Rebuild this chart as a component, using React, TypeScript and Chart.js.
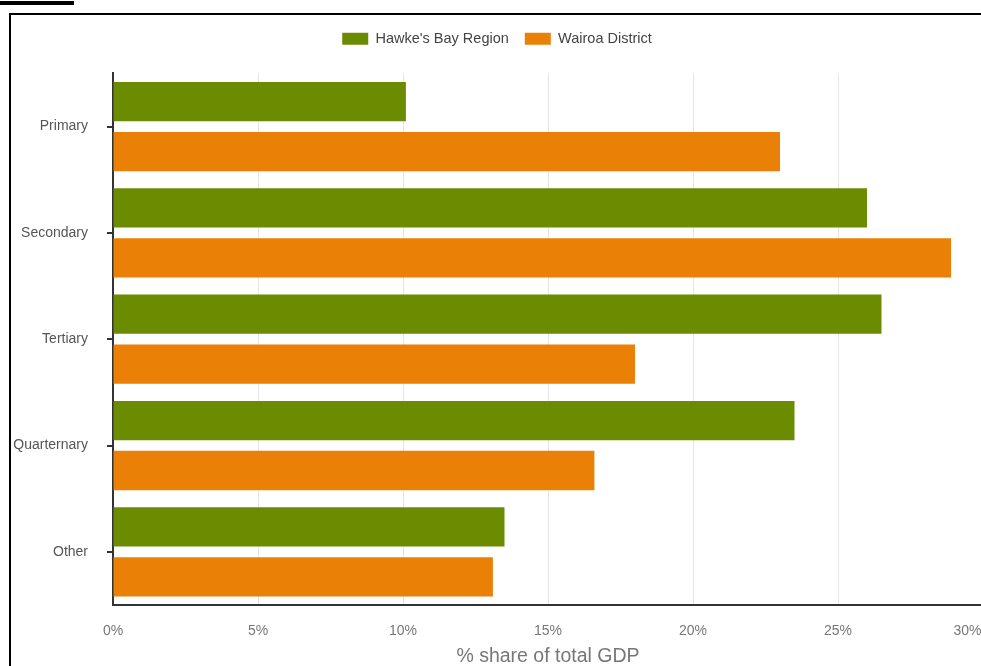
import React, { useEffect, useRef } from "react";
import { Chart, registerables } from "chart.js";

Chart.register(...registerables);

const categories = ["Primary", "Secondary", "Tertiary", "Quarternary", "Other"];
const seriesNames = ["Hawke's Bay Region", "Wairoa District"];
const hawkesBay = [10.1, 26.0, 26.5, 23.5, 13.5];
const wairoa = [23.0, 28.9, 18.0, 16.6, 13.1];
const xMin = 0;
const xMax = 30;
const xStep = 5;
const xTitle = "% share of total GDP";

const FONT = '"Liberation Sans", Arial, Helvetica, sans-serif';

export default function App() {
  const ref = useRef<HTMLCanvasElement | null>(null);

  useEffect(() => {
    if (!ref.current) return;
    const chart = new Chart(ref.current, {
      type: "bar",
      data: {
        labels: categories,
        datasets: [
          {
            label: seriesNames[0],
            data: hawkesBay,
            backgroundColor: "#6b8c00",
            borderWidth: 0,
            categoryPercentage: 0.94,
            barPercentage: 0.786,
          },
          {
            label: seriesNames[1],
            data: wairoa,
            backgroundColor: "#eb8006",
            borderWidth: 0,
            categoryPercentage: 0.94,
            barPercentage: 0.786,
          },
        ],
      },
      options: {
        indexAxis: "y",
        responsive: false,
        animation: false,
        devicePixelRatio: 1,
        layout: { padding: { top: 0.5, right: 50, bottom: 0, left: 0 } },
        plugins: {
          legend: {
            display: true,
            position: "top",
            weight: 3000,
            labels: {
              boxWidth: 26,
              boxHeight: 12,
              padding: 16,
              color: "#444",
              font: { family: FONT, size: 14.5 },
            },
          } as any,
          subtitle: {
            display: true,
            text: "",
            font: { family: FONT, size: 12 },
            padding: { top: 1.5, bottom: 1.5 },
          },
          tooltip: { enabled: false },
        },
        scales: {
          x: {
            type: "linear",
            min: xMin,
            max: xMax,
            afterFit: (s: any) => {
              s.height = 63;
            },
            ticks: {
              stepSize: xStep,
              padding: 18,
              color: "#777",
              font: { family: FONT, size: 14 },
              callback: (v: any) =>
                v === xMax ? v + "%" + "\u00a0".repeat(8) : v + "%",
            },
            grid: {
              color: "#e6e6e6",
              lineWidth: 1,
              drawTicks: false,
            },
            border: { display: true, color: "#333", width: 2 },
            title: {
              display: true,
              text: xTitle,
              color: "#777",
              font: { family: FONT, size: 19.5 },
              padding: { top: 0, bottom: 0 },
            },
          },
          y: {
            type: "category",
            afterFit: (s: any) => {
              s.width = 102;
            },
            ticks: {
              padding: 19,
              color: "#555",
              font: { family: FONT, size: 14 },
            },
            grid: {
              offset: false,
              drawOnChartArea: false,
              drawTicks: true,
              tickLength: 6,
              color: "#333",
              lineWidth: 2,
            },
            border: { display: true, color: "#333", width: 2 },
          },
        },
      } as any,
    });
    return () => chart.destroy();
  }, []);

  return (
    <div
      style={{
        position: "fixed",
        inset: 0,
        overflow: "hidden",
        background: "#fff",
      }}
    >
      <div
        style={{
          position: "absolute",
          left: 0,
          top: 1,
          width: 74,
          height: 4,
          background: "#000",
        }}
      />
      <div
        style={{
          position: "absolute",
          left: 9,
          top: 13,
          width: 1100,
          height: 800,
          borderLeft: "2px solid #000",
          borderTop: "2px solid #000",
        }}
      >
        <canvas
          ref={ref}
          width={1022}
          height={653}
          style={{ display: "block", width: 1022, height: 653 }}
        />
      </div>
    </div>
  );
}
